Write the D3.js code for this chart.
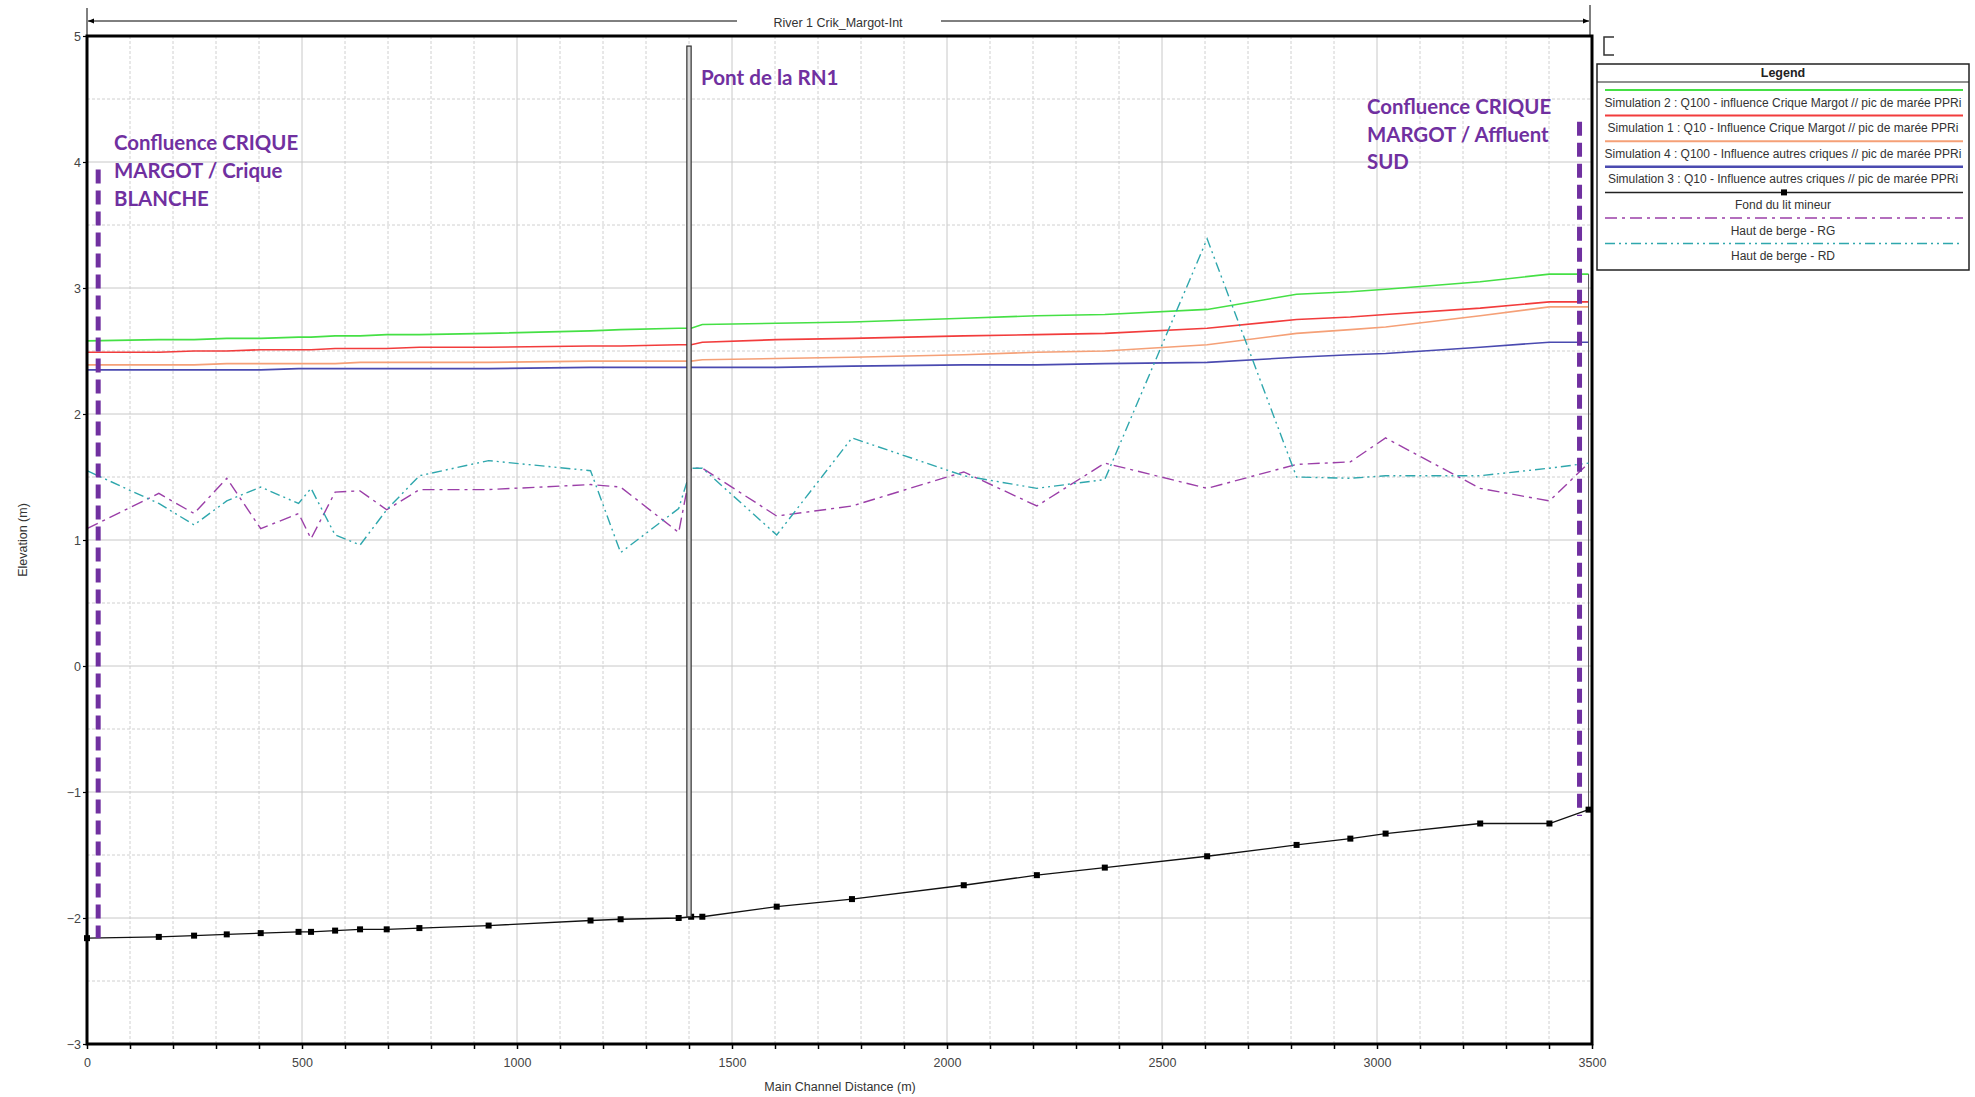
<!DOCTYPE html>
<html>
<head>
<meta charset="utf-8">
<script src="https://cdn.jsdelivr.net/npm/d3@7/dist/d3.min.js"></script>
<style>
  html, body { margin: 0; padding: 0; background: #fff; }
  svg { display: block; }
  .tick text { font-family: "Liberation Sans", Arial, sans-serif; }
</style>
</head>
<body>
<svg id="chart" width="1975" height="1097"></svg>
<script>
// ---------------- DATA ----------------
const stations = [0, 167, 249, 325, 404, 492, 521, 577, 635, 697, 773, 934, 1171, 1241, 1376, 1405, 1431, 1604, 1779, 2039, 2209, 2367, 2605, 2813, 2938, 3020, 3240, 3401, 3492];

const fondLitMineur = [-2.16, -2.15, -2.14, -2.13, -2.12, -2.11, -2.11, -2.10, -2.09, -2.09, -2.08, -2.06, -2.02, -2.01, -2.00, -1.99, -1.99, -1.91, -1.85, -1.74, -1.66, -1.60, -1.51, -1.42, -1.37, -1.33, -1.25, -1.25, -1.14];

const sim2Q100Margot = [2.58, 2.59, 2.59, 2.60, 2.60, 2.61, 2.61, 2.62, 2.62, 2.63, 2.63, 2.64, 2.66, 2.67, 2.68, 2.68, 2.71, 2.72, 2.73, 2.76, 2.78, 2.79, 2.83, 2.95, 2.97, 2.99, 3.05, 3.11, 3.11];
const sim1Q10Margot  = [2.49, 2.49, 2.50, 2.50, 2.51, 2.51, 2.51, 2.52, 2.52, 2.52, 2.53, 2.53, 2.54, 2.54, 2.55, 2.55, 2.57, 2.59, 2.60, 2.62, 2.63, 2.64, 2.68, 2.75, 2.77, 2.79, 2.84, 2.89, 2.89];
const sim4Q100Autres = [2.39, 2.39, 2.39, 2.40, 2.40, 2.40, 2.40, 2.40, 2.41, 2.41, 2.41, 2.41, 2.42, 2.42, 2.42, 2.42, 2.43, 2.44, 2.45, 2.47, 2.49, 2.50, 2.55, 2.64, 2.67, 2.69, 2.78, 2.85, 2.85];
const sim3Q10Autres  = [2.35, 2.35, 2.35, 2.35, 2.35, 2.36, 2.36, 2.36, 2.36, 2.36, 2.36, 2.36, 2.37, 2.37, 2.37, 2.37, 2.37, 2.37, 2.38, 2.39, 2.39, 2.40, 2.41, 2.45, 2.47, 2.48, 2.53, 2.57, 2.57];

const hautBergeRG = [1.09, 1.37, 1.21, 1.49, 1.09, 1.21, 1.01, 1.38, 1.39, 1.24, 1.40, 1.40, 1.44, 1.42, 1.06, 1.57, 1.57, 1.19, 1.27, 1.54, 1.27, 1.61, 1.41, 1.60, 1.62, 1.81, 1.41, 1.31, 1.61];
const hautBergeRD = [1.55, 1.29, 1.12, 1.31, 1.42, 1.29, 1.41, 1.04, 0.96, 1.24, 1.51, 1.63, 1.55, 0.90, 1.25, 1.57, 1.57, 1.04, 1.81, 1.51, 1.41, 1.48, 3.39, 1.50, 1.49, 1.51, 1.51, 1.57, 1.61];

const xTicks = [0, 500, 1000, 1500, 2000, 2500, 3000, 3500];
const yTicks = [-3, -2, -1, 0, 1, 2, 3, 4, 5];

const legendLabels = [
  "Simulation 2 : Q100 - influence Crique Margot // pic de marée PPRi",
  "Simulation 1 : Q10 - Influence Crique Margot // pic de marée PPRi",
  "Simulation 4 : Q100 - Influence autres criques // pic de marée PPRi",
  "Simulation 3 : Q10 - Influence autres criques // pic de marée PPRi",
  "Fond du lit mineur",
  "Haut de berge - RG",
  "Haut de berge - RD"
];

const bridgeStart = 1395, bridgeEnd = 1405, bridgeTop = 4.92, bridgeBottom = -1.99;
const confluenceLeft = 26, confluenceLeftTop = 3.94, confluenceLeftBottom = -2.16;
const confluenceRight = 3471, confluenceRightTop = 4.32, confluenceRightBottom = -1.19;

const annotationLeft = ["Confluence CRIQUE", "MARGOT / Crique", "BLANCHE"];
const annotationRight = ["Confluence CRIQUE", "MARGOT / Affluent", "SUD"];
const annotationBridge = "Pont de la RN1";

// ---------------- LAYOUT ----------------
const svg = d3.select("#chart");
const L = 87, R = 1592, T = 36, B = 1044;
const x = d3.scaleLinear().domain([0, 3500]).range([L, R]);
const y = d3.scaleLinear().domain([-3, 5]).range([B, T]);
const font = "'Liberation Sans', Arial, sans-serif";

// Grid
const g = svg.append("g");
d3.range(100, 3500, 100).forEach(v => {
  const major = v % 500 === 0;
  g.append("line").attr("x1", x(v)).attr("x2", x(v)).attr("y1", T).attr("y2", B)
    .attr("stroke", major ? "#c8c8c8" : "#d0d0d0").attr("stroke-width", 1)
    .attr("stroke-dasharray", major ? null : "3,2");
});
d3.range(-2.5, 5, 0.5).forEach(v => {
  const major = Math.abs(v - Math.round(v)) < 1e-9;
  g.append("line").attr("x1", L).attr("x2", R).attr("y1", y(v)).attr("y2", y(v))
    .attr("stroke", major ? "#c8c8c8" : "#d0d0d0").attr("stroke-width", 1)
    .attr("stroke-dasharray", major ? null : "3,2");
});

// Axes
const xAxis = d3.axisBottom(x).tickValues(d3.range(0, 3501, 100))
  .tickFormat(d => xTicks.includes(d) ? d : "").tickSize(5).tickPadding(9);
const xg = svg.append("g").attr("transform", `translate(0,${B})`).call(xAxis);
xg.select(".domain").remove();
xg.selectAll(".tick line").attr("stroke", "#000").attr("stroke-width", 1.5);
xg.selectAll(".tick text").attr("font-size", 12.5).attr("fill", "#444");

const yAxis = d3.axisLeft(y).tickValues(yTicks).tickSize(4).tickPadding(2);
const yg = svg.append("g").attr("transform", `translate(${L},0)`).call(yAxis);
yg.select(".domain").remove();
yg.selectAll(".tick line").attr("stroke", "#000").attr("stroke-width", 1.2);
yg.selectAll(".tick text").attr("font-size", 12.5).attr("fill", "#444");

// Axis titles
svg.append("text").attr("x", 840).attr("y", 1091).attr("text-anchor", "middle")
  .attr("font-family", font).attr("font-size", 12.5).attr("fill", "#333")
  .text("Main Channel Distance (m)");
svg.append("text").attr("transform", `translate(27,${y(1)}) rotate(-90)`)
  .attr("text-anchor", "middle").attr("font-family", font).attr("font-size", 12.5).attr("fill", "#333")
  .text("Elevation (m)");

// Top reach label with arrows
const defs = svg.append("defs");
defs.append("marker").attr("id", "arrL").attr("viewBox", "0 0 10 10").attr("refX", 0).attr("refY", 5)
  .attr("markerWidth", 8).attr("markerHeight", 6).attr("markerUnits", "userSpaceOnUse").attr("orient", "auto")
  .append("path").attr("d", "M10,1 L0,5 L10,9 Z").attr("fill", "#000");
defs.append("marker").attr("id", "arrR").attr("viewBox", "0 0 10 10").attr("refX", 10).attr("refY", 5)
  .attr("markerWidth", 8).attr("markerHeight", 6).attr("markerUnits", "userSpaceOnUse").attr("orient", "auto")
  .append("path").attr("d", "M0,1 L10,5 L0,9 Z").attr("fill", "#000");
svg.append("line").attr("x1", L).attr("x2", L).attr("y1", 8).attr("y2", T).attr("stroke", "#000").attr("stroke-width", 1);
svg.append("line").attr("x1", R - 2).attr("x2", R - 2).attr("y1", 5).attr("y2", T).attr("stroke", "#000").attr("stroke-width", 1);
svg.append("line").attr("x1", L + 1).attr("x2", 737).attr("y1", 21).attr("y2", 21)
  .attr("stroke", "#000").attr("stroke-width", 1).attr("marker-start", "url(#arrL)");
svg.append("line").attr("x1", 941).attr("x2", R - 3).attr("y1", 21).attr("y2", 21)
  .attr("stroke", "#000").attr("stroke-width", 1).attr("marker-end", "url(#arrR)");
svg.append("text").attr("x", 838).attr("y", 27).attr("text-anchor", "middle")
  .attr("font-family", font).attr("font-size", 12.5).attr("fill", "#333").text("River 1 Crik_Margot-Int");

// Small bracket
svg.append("path").attr("d", "M1614,37 L1604,37 L1604,55 L1614,55").attr("fill", "none")
  .attr("stroke", "#333").attr("stroke-width", 1.5);

// Lines
const line = d3.line().x((d, i) => x(stations[i])).y(d => y(d));
const plot = svg.append("g");

plot.append("path").datum(sim3Q10Autres).attr("d", line).attr("fill", "none").attr("stroke", "#4a4ab0").attr("stroke-width", 1.6);
plot.append("path").datum(sim4Q100Autres).attr("d", line).attr("fill", "none").attr("stroke", "#f5a077").attr("stroke-width", 1.6);
plot.append("path").datum(sim1Q10Margot).attr("d", line).attr("fill", "none").attr("stroke", "#f23c3c").attr("stroke-width", 1.6);
plot.append("path").datum(sim2Q100Margot).attr("d", line).attr("fill", "none").attr("stroke", "#45e045").attr("stroke-width", 1.6);

// last station vertical
const lastI = stations.length - 1;
plot.append("line").attr("x1", x(stations[lastI])).attr("x2", x(stations[lastI]))
  .attr("y1", y(sim2Q100Margot[lastI])).attr("y2", y(fondLitMineur[lastI]))
  .attr("stroke", "#555").attr("stroke-width", 1);

plot.append("path").datum(hautBergeRG).attr("d", line).attr("fill", "none").attr("stroke", "#9b3fa8")
  .attr("stroke-width", 1.4).attr("stroke-dasharray", "12,5,3,5");
plot.append("path").datum(hautBergeRD).attr("d", line).attr("fill", "none").attr("stroke", "#2fa7ad")
  .attr("stroke-width", 1.4).attr("stroke-dasharray", "10,4,2,4,2,4");

plot.append("path").datum(fondLitMineur).attr("d", line).attr("fill", "none").attr("stroke", "#111").attr("stroke-width", 1.3);
plot.selectAll("rect.pt").data(fondLitMineur).enter().append("rect").attr("class", "pt")
  .attr("x", (d, i) => x(stations[i]) - 3).attr("y", d => y(d) - 3).attr("width", 6).attr("height", 6).attr("fill", "#000");

// Bridge
plot.append("rect").attr("x", x(bridgeStart)).attr("y", y(bridgeTop))
  .attr("width", x(bridgeEnd) - x(bridgeStart)).attr("height", y(bridgeBottom) - y(bridgeTop))
  .attr("fill", "#d8d8d8").attr("stroke", "#333").attr("stroke-width", 1.2);

// Plot frame
svg.append("rect").attr("x", L).attr("y", T).attr("width", R - L).attr("height", B - T)
  .attr("fill", "none").attr("stroke", "#000").attr("stroke-width", 3);

// Confluence dashed markers
const purple = "#7030A0";
[[confluenceLeft, confluenceLeftTop, confluenceLeftBottom], [confluenceRight, confluenceRightTop, confluenceRightBottom]].forEach(c => {
  svg.append("line").attr("x1", x(c[0])).attr("x2", x(c[0])).attr("y1", y(c[1])).attr("y2", y(c[2]))
    .attr("stroke", purple).attr("stroke-width", 5).attr("stroke-dasharray", "14,7");
});

// Annotations
const annFont = "Lato, 'Open Sans', sans-serif";
annotationLeft.forEach((t, i) => {
  svg.append("text").attr("x", 114).attr("y", 150 + i * 28).attr("font-family", annFont)
    .attr("font-weight", "bold").attr("font-size", 20.4).attr("fill", purple).text(t);
});
annotationRight.forEach((t, i) => {
  svg.append("text").attr("x", 1367).attr("y", 114 + i * 27.5).attr("font-family", annFont)
    .attr("font-weight", "bold").attr("font-size", 20.4).attr("fill", purple).text(t);
});
svg.append("text").attr("x", 701).attr("y", 85).attr("font-family", annFont)
  .attr("font-weight", "bold").attr("font-size", 20.6).attr("fill", purple).text(annotationBridge);

// Legend
const lg = svg.append("g");
const LX0 = 1597, LX1 = 1969, LY0 = 64, LY1 = 270;
lg.append("rect").attr("x", LX0).attr("y", LY0).attr("width", LX1 - LX0).attr("height", LY1 - LY0)
  .attr("fill", "#fff").attr("stroke", "#222").attr("stroke-width", 1.5);
lg.append("line").attr("x1", LX0).attr("x2", LX1).attr("y1", 82).attr("y2", 82).attr("stroke", "#222").attr("stroke-width", 1.2);
lg.append("text").attr("x", (LX0 + LX1) / 2).attr("y", 77).attr("text-anchor", "middle")
  .attr("font-family", font).attr("font-weight", "bold").attr("font-size", 12.5).attr("fill", "#222").text("Legend");
const legendStyles = [
  { c: "#45e045", w: 2, dash: null, marker: false },
  { c: "#f23c3c", w: 2, dash: null, marker: false },
  { c: "#f5a077", w: 2, dash: null, marker: false },
  { c: "#4a4ab0", w: 2.5, dash: null, marker: false },
  { c: "#222", w: 1.5, dash: null, marker: true },
  { c: "#9b3fa8", w: 1.5, dash: "12,5,3,5", marker: false },
  { c: "#2fa7ad", w: 1.5, dash: "10,4,2,4,2,4", marker: false }
];
legendLabels.forEach((t, i) => {
  const ly = 90 + i * 25.6;
  const s = legendStyles[i];
  lg.append("line").attr("x1", 1605).attr("x2", 1963).attr("y1", ly).attr("y2", ly)
    .attr("stroke", s.c).attr("stroke-width", s.w).attr("stroke-dasharray", s.dash);
  if (s.marker) lg.append("rect").attr("x", 1781).attr("y", ly - 3).attr("width", 6).attr("height", 6).attr("fill", "#000");
  lg.append("text").attr("x", 1783).attr("y", ly + 16.5).attr("text-anchor", "middle")
    .attr("font-family", font).attr("font-size", 12).attr("fill", "#333").text(t);
});
</script>
</body>
</html>
